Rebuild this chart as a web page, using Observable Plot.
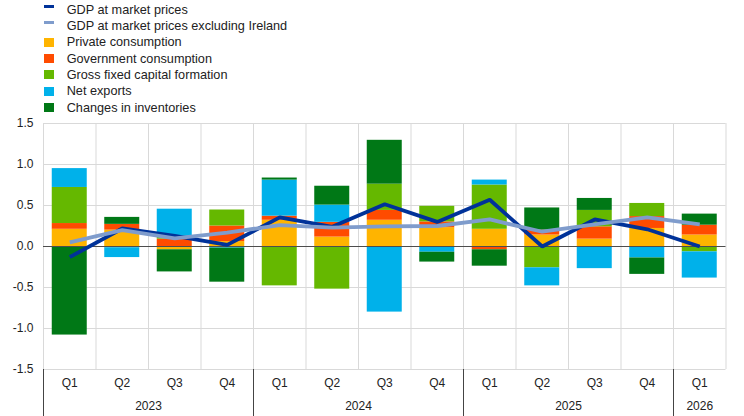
<!DOCTYPE html>
<html>
<head>
<meta charset="utf-8">
<script src="https://cdn.jsdelivr.net/npm/d3@7"></script>
<script src="https://cdn.jsdelivr.net/npm/@observablehq/plot@0.6"></script>
<style>
  html, body { margin: 0; padding: 0; background: #fff; }
  body { font-family: "Liberation Sans", Arial, sans-serif; width: 744px; height: 416px; overflow: hidden; }
  #legend { position: relative; height: 116px; }
  .row { position: absolute; left: 44px; height: 16px; display: flex; align-items: center; font-size: 12.7px; color: #222; white-space: nowrap; }
  .sw { width: 10px; margin-right: 12.7px; flex: none; }
  #chart svg { display: block; }
</style>
</head>
<body>
<div id="legend"></div>
<div id="chart"></div>
<script>
// ---- data (percentage points / quarter-on-quarter % change) ----
const quarters = ["Q1","Q2","Q3","Q4","Q1","Q2","Q3","Q4","Q1","Q2","Q3","Q4","Q1"];
const years    = [2023,2023,2023,2023,2024,2024,2024,2024,2025,2025,2025,2025,2026];

const privateConsumption    = [0.21, 0.20, -0.04, 0.06, 0.32, 0.115, 0.32, 0.23, 0.21, 0.14, 0.09, 0.22, 0.14];
const governmentConsumption = [0.07, 0.07, 0.09, 0.19, 0.05, 0.18, 0.12, 0.07, -0.04, 0.06, 0.15, 0.145, 0.12];
const grossFixedCapital     = [0.44, -0.015, 0.02, 0.195, -0.48, -0.52, 0.32, 0.19, 0.54, -0.26, 0.20, 0.16, -0.065];
const netExports            = [0.23, -0.12, 0.345, -0.02, 0.44, 0.21, -0.80, -0.07, 0.06, -0.22, -0.27, -0.14, -0.32];
const changesInInventories  = [-1.08, 0.085, -0.27, -0.415, 0.025, 0.23, 0.535, -0.12, -0.20, 0.27, 0.146, -0.20, 0.135];

const gdp           = [-0.13, 0.22, 0.13, 0.02, 0.355, 0.24, 0.515, 0.30, 0.57, 0.0, 0.33, 0.21, 0.0];
const gdpExIreland  = [0.05, 0.20, 0.10, 0.17, 0.26, 0.23, 0.245, 0.25, 0.33, 0.18, 0.27, 0.355, 0.27];

const yTicks = [-1.5, -1.0, -0.5, 0.0, 0.5, 1.0, 1.5];

// ---- series metadata ----
const barSeries = [
  {name: "Private consumption",          values: privateConsumption,    color: "#ffb400"},
  {name: "Government consumption",       values: governmentConsumption, color: "#ff4b00"},
  {name: "Gross fixed capital formation",values: grossFixedCapital,     color: "#65b800"},
  {name: "Net exports",                  values: netExports,            color: "#00b1ea"},
  {name: "Changes in inventories",       values: changesInInventories,  color: "#007816"}
];
const lineSeries = [
  {name: "GDP at market prices",                   values: gdp,          color: "#003299"},
  {name: "GDP at market prices excluding Ireland", values: gdpExIreland, color: "#7f9ccc"}
];

// ---- legend ----
const legend = document.getElementById("legend");
const legendItems = [
  ...lineSeries.map(s => ({...s, kind: "line"})),
  ...barSeries.map(s => ({...s, kind: "box"}))
];
legendItems.forEach((s, i) => {
  const row = document.createElement("div");
  row.className = "row";
  row.style.top = (1.5 + 16.35 * i) + "px";
  const sw = document.createElement("span");
  sw.className = "sw";
  sw.style.background = s.color;
  sw.style.height = s.kind === "line" ? "3px" : "9px";
  if (s.kind === "line") sw.style.marginTop = "-6px";
  row.appendChild(sw);
  const t = document.createElement("span");
  t.textContent = s.name;
  row.appendChild(t);
  legend.appendChild(row);
});

// ---- stacked rectangles (positive and negative stacks separately) ----
const n = quarters.length;
const idx = d3.range(n);
const rects = [];
idx.forEach(i => {
  let pos = 0, neg = 0;
  barSeries.forEach(s => {
    const v = s.values[i];
    if (v >= 0) { rects.push({i, y1: pos, y2: pos + v, color: s.color}); pos += v; }
    else        { rects.push({i, y1: neg, y2: neg + v, color: s.color}); neg += v; }
  });
});

// year groups
const yearList = Array.from(new Set(years));
const yearGroups = yearList.map(y => {
  const ids = idx.filter(i => years[i] === y);
  return {year: String(y), center: d3.mean(ids), start: ids[0]};
});

const chart = Plot.plot({
  width: 744,
  height: 300,
  marginTop: 7,
  marginBottom: 47,
  marginLeft: 43,
  marginRight: 18.5,
  style: {fontFamily: "'Liberation Sans', Arial, sans-serif", fontSize: "12px", color: "#222", background: "#fff", overflow: "visible"},
  x: {type: "linear", domain: [-0.5, n - 0.5], axis: null},
  y: {domain: [-1.5, 1.5], ticks: yTicks, tickFormat: d => d.toFixed(1), tickSize: 0, tickPadding: 10, label: null},
  marks: [
    Plot.ruleY(yTicks.filter(d => d !== 0), {stroke: "#d9d9d9", strokeWidth: 1}),
    Plot.ruleX(d3.range(n + 1), {x: d => d - 0.5, stroke: "#d9d9d9", strokeWidth: 1}),
    Plot.rect(rects, {
      x1: d => d.i - 0.5, x2: d => d.i + 0.5,
      y1: "y1", y2: "y2",
      fill: d => d.color,
      insetLeft: 8.75, insetRight: 8.75
    }),
    Plot.ruleY([0], {stroke: "#4d4d4d", strokeWidth: 1}),
    ...lineSeries.map(s => Plot.line(idx, {
      x: d => d, y: d => s.values[d],
      stroke: s.color, strokeWidth: 3.8, strokeLinejoin: "miter", strokeLinecap: "butt"
    })),
    Plot.text(idx, {x: d => d, y: -1.5, text: d => quarters[d], dy: 14, fill: "#222", fontSize: 12}),
    Plot.text(yearGroups, {x: "center", y: -1.5, text: "year", dy: 37, fill: "#222", fontSize: 12}),
    Plot.ruleX(yearGroups, {x: d => d.start - 0.5, stroke: "#444", strokeWidth: 1, insetTop: 246, insetBottom: -47})
  ]
});
document.getElementById("chart").appendChild(chart);
</script>
</body>
</html>
